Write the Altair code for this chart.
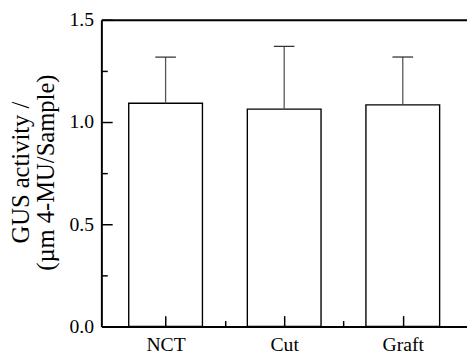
import altair as alt
import pandas as pd

categories = ["NCT", "Cut", "Graft"]
means = [1.092, 1.063, 1.084]
uppers = [1.318, 1.370, 1.318]
y_major = [0.0, 0.5, 1.0, 1.5]
y_minor = [0.25, 0.75, 1.25]
x_major = [1, 2, 3]
x_minor = [1.5, 2.5]

df = pd.DataFrame({
    "cat": categories,
    "pos": list(range(1, len(categories) + 1)),
    "mean": means,
    "upper": uppers,
})

FONT = "Liberation Serif"
label_expr = "[" + ",".join("'%s'" % c for c in categories) + "][datum.value - 1]"

xs = alt.Scale(domain=[0.5, 3.5], nice=False, zero=False)
ys = alt.Scale(domain=[0, 1.5], nice=False)

bars = alt.Chart(df).mark_bar(size=75, fill="white", stroke="black", strokeWidth=1.4).encode(
    x=alt.X("pos:Q", scale=xs, axis=alt.Axis(
        values=x_major, labelExpr=label_expr, title=None, orient="bottom",
        tickSize={"expr": "-11"}, tickWidth=1.5, tickColor="black",
        domainWidth=2, domainColor="black", labelFont=FONT, labelFontSize=20,
        labelColor="black", labelPadding=19, grid=False, zindex=1)),
    y=alt.Y("mean:Q", scale=ys, axis=alt.Axis(
        values=y_major, format=".1f", orient="left",
        tickSize={"expr": "-11"}, tickWidth=1.5, tickColor="black",
        domainWidth=2, domainColor="black", labelFont=FONT, labelFontSize=20,
        labelColor="black", labelPadding=19, grid=False, zindex=1,
        title=["GUS activity /", "(\u00b5m 4-MU/Sample)"],
        titleFont=FONT, titleFontSize=25, titleFontWeight="normal", titleColor="black",
        titleX=-74, titleY=155, titleAlign="center", titleAngle=270,
        titleBaseline="alphabetic", titleLineHeight=25)),
)

rule = alt.Chart(df).mark_rule(color="#555555", strokeWidth=1.3).encode(
    x=alt.X("pos:Q", scale=xs, axis=alt.Axis(
        values=x_minor, labels=False, domain=False, title=None, orient="bottom",
        tickSize={"expr": "-6"}, tickWidth=1.5, tickColor="black", grid=False, zindex=1)),
    y=alt.Y("mean:Q", scale=ys, axis=alt.Axis(
        values=y_minor, labels=False, domain=False, title=None, orient="left",
        tickSize={"expr": "-6"}, tickWidth=1.5, tickColor="black", grid=False, zindex=1)),
    y2="upper:Q",
)

cap = alt.Chart(df).mark_tick(orient="horizontal", size=21, thickness=1.3, color="#333333", opacity=1).encode(
    x=alt.X("pos:Q", scale=xs, axis=alt.Axis(
        orient="top", labels=False, ticks=False, title=None, domainWidth=2,
        domainColor="black", grid=False, zindex=1)),
    y=alt.Y("upper:Q", scale=ys, axis=None),
)

chart = alt.layer(bars, rule, cap).resolve_axis(x="independent", y="independent").properties(
    width=372, height=312,
    autosize=alt.AutoSizeParams(type="none"),
    padding={"left": 95, "top": 9, "right": 0, "bottom": 25},
).configure_view(stroke=None)

chart.save("out.html", embed_options={"renderer": "svg", "actions": False})
